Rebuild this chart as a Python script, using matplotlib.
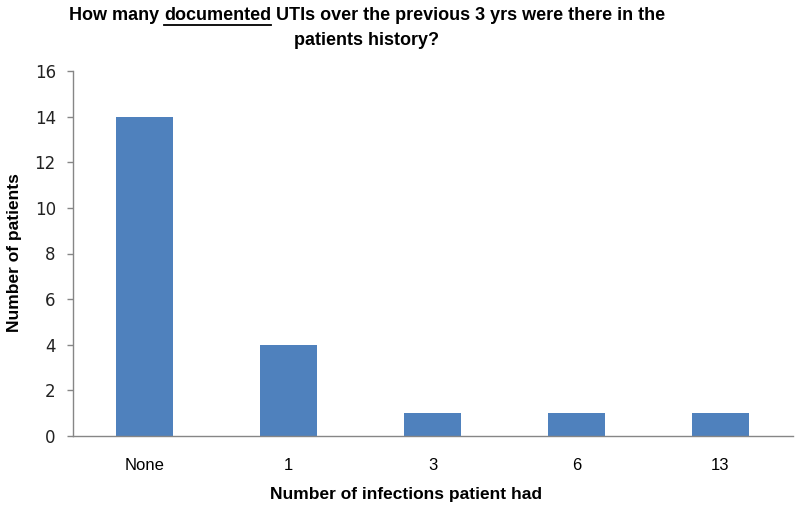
import matplotlib
matplotlib.use("Agg")
import matplotlib.pyplot as plt

# Données
categories = ["None", "1", "3", "6", "13"]
patients = [14, 4, 1, 1, 1]

title_parts = ["How many ", "documented", " UTIs over the previous 3 yrs were there in the"]
title_line2 = "patients history?"

plt.rcParams["font.family"] = ["Liberation Sans", "DejaVu Sans"]
axis_color = "#868686"

fig = plt.figure(figsize=(8, 5.14), dpi=100)
ax = fig.add_axes([72.5 / 800, 78 / 514, 720 / 800, 365 / 514])

x = range(len(categories))
ax.bar(x, patients, width=0.4, color="#4F81BD")

ax.set_xlim(-0.5, len(categories) - 0.5)
ax.set_ylim(0, 16)
ax.set_yticks(range(0, 17, 2))
ax.set_xticks(list(x))
ax.set_xticklabels(categories)

for side in ("top", "right"):
    ax.spines[side].set_visible(False)
for side in ("left", "bottom"):
    ax.spines[side].set_color(axis_color)
    ax.spines[side].set_linewidth(1.0)

ax.tick_params(axis="x", length=0, pad=16, labelsize=12)
ax.tick_params(axis="y", length=4, width=1, color=axis_color, direction="out", pad=8, labelsize=12)
for lab in ax.get_yticklabels():
    lab.set_family("DejaVu Sans")
    lab.set_color("#222222")

# Titres des axes
fig.text(15 / 800, 1 - 253 / 514, "Number of patients", rotation=90,
         ha="center", va="center", fontsize=12.5, fontweight="bold")
fig.text(406 / 800, 1 - 495 / 514, "Number of infections patient had",
         ha="center", va="center", fontsize=12.5, fontweight="bold")

# Titre avec "documented" souligné
fig.canvas.draw()
renderer = fig.canvas.get_renderer()
y1 = 1 - 16 / 514
texts = []
for part in title_parts:
    t = fig.text(0, y1, part, ha="left", va="center", fontsize=13, fontweight="bold")
    texts.append(t)
widths = [t.get_window_extent(renderer).width for t in texts]
total = sum(widths)
x0 = 367 - total / 2
for t, w in zip(texts, widths):
    t.set_x(x0 / 800)
    x0 += w
bb = texts[1].get_window_extent(renderer)
uy = (bb.y0 - 0.5) / 514
fig.add_artist(plt.Line2D([bb.x0 / 800, bb.x1 / 800], [uy, uy],
                          transform=fig.transFigure, color="black", linewidth=1.3))
fig.text(367 / 800, 1 - 41 / 514, title_line2, ha="center", va="center",
         fontsize=13, fontweight="bold")

fig.savefig("out.png", dpi=100)
plt.close(fig)
